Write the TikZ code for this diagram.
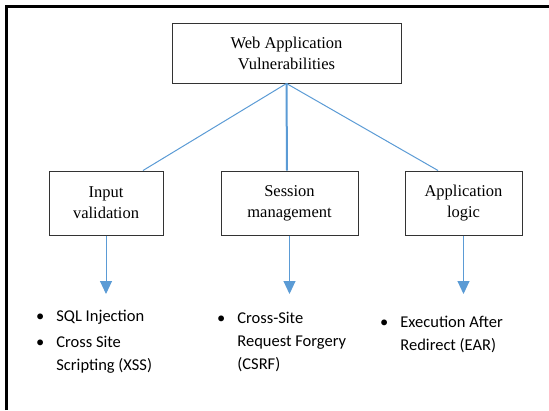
\documentclass[tikz,border=0pt]{standalone}
\usepackage{fontspec}
\setmainfont{Liberation Serif}
\newfontfamily\listfont{Carlito}
\usepackage{tikz}
\usetikzlibrary{arrows.meta}
\definecolor{linkblue}{HTML}{5B9BD5}
\tikzset{
	box/.style={
		% The shape:
		rectangle,inner sep=0pt,
		% The size:
		minimum height=64pt,
		% The border:
		draw=black!80,line width=1pt,
		% The text:
		align=center,font=\fontsize{16.5}{21}\selectfont,
	}}
\tikzset{
	items/.style={
		% no border, just the list
		inner sep=0pt,anchor=base west,
		font=\listfont\fontsize{16.5}{23}\selectfont,
	}}
\tikzset{
	link/.style={draw=linkblue,line width=1pt},
	down/.style={link,-{Triangle[width=12pt,length=13pt]}},
}

\begin{document}
\begin{tikzpicture}[x=1pt,y=-1pt]
	\useasboundingbox (0,0) rectangle (549,410);
	% frame
	\draw[line width=2.5pt] (6.5,410) -- (6.5,6.5) -- (549,6.5);
	\node[box,minimum width=229pt,minimum height=60pt] (top) at (286.5,53) {Web Application\\Vulnerabilities};
	\node[box,minimum width=114pt] (inp) at (106,203) {Input\\validation};
	\node[box,minimum width=137pt] (ses) at (289.5,203) {Session\\management};
	\node[box,minimum width=117pt] (app) at (463.5,203) {Application\\logic};
	\draw[link] (top.south) -- ([xshift=37pt]inp.north);
	\draw[link,line width=2pt] (top.south) -- ([xshift=-2.5pt]ses.north);
	\draw[link] (top.south) -- ([xshift=-25.5pt]app.north);
	\coordinate (inpend) at (106,294);
	\coordinate (sesend) at (289.5,294);
	\coordinate (append) at (463.5,294);
	\draw[down] (inp) -- (inpend);
	\draw[down] (ses) -- (sesend);
	\draw[down] (app) -- (append);
	\node[items] (inpl) at (36,321.5) {\begin{tabular}[t]{@{}l@{\hspace{12pt}}l@{}}
		• & SQL Injection\\[3pt]
		• & Cross Site\\
		  & Scripting (XSS)
	\end{tabular}};
	\node[items] (sesl) at (217,323.5) {\begin{tabular}[t]{@{}l@{\hspace{12pt}}l@{}}
		• & Cross-Site\\
		  & Request Forgery\\
		  & (CSRF)
	\end{tabular}};
	\node[items] (appl) at (380,327) {\begin{tabular}[t]{@{}l@{\hspace{12pt}}l@{}}
		• & Execution After\\
		  & Redirect (EAR)
	\end{tabular}};
\end{tikzpicture}
\end{document}
